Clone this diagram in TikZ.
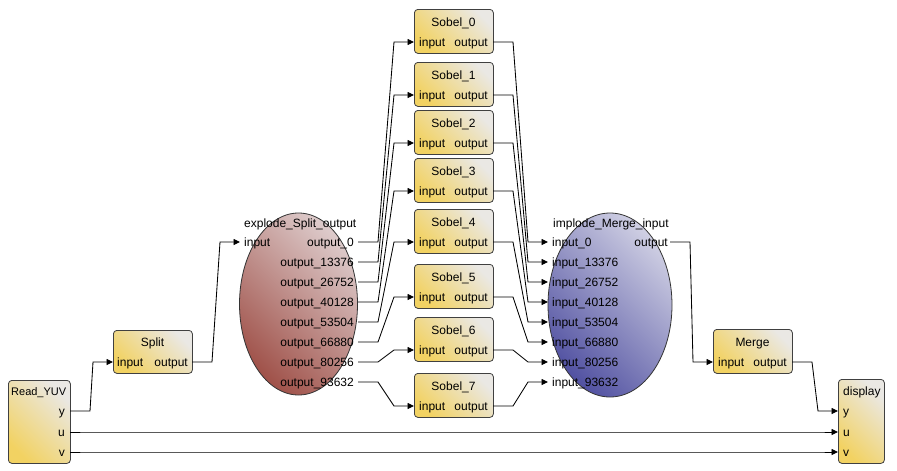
\documentclass[tikz,border=0pt]{standalone}
\usepackage{fontspec}
\setmainfont{Liberation Sans}
\usetikzlibrary{arrows.meta,shapes.geometric}

\definecolor{boxgold}{HTML}{F2D262}
\definecolor{boxpale}{HTML}{EAE8E4}
\definecolor{exdark}{HTML}{A0524A}
\definecolor{exlight}{HTML}{DDCBCB}
\definecolor{imdark}{HTML}{5252A2}
\definecolor{imlight}{HTML}{CFCFE3}

\tikzset{
  actor/.style={draw=black!75, line width=0.8pt, rounded corners=3.5pt,
    bottom color=boxgold, top color=boxpale, shading angle=-45,
    anchor=north west, inner sep=0pt},
  special/.style={ellipse, draw=black!80, line width=0.8pt, inner sep=0pt},
  lbl/.style={font=\fontsize{12}{14}\selectfont, inner sep=0pt, text=black},
  wire/.style={draw=black, line width=0.85pt, -{Triangle[length=6.5pt,width=6pt]}},
  link/.style={to path={-- ++(20,0) -- ([xshift=-20pt]\tikztotarget) -- (\tikztotarget)}}
}

\begin{document}
\begin{tikzpicture}[x=1pt, y=-1pt]
  \fill[white] (0,0) rectangle (897,471);
  \useasboundingbox (0,0) rectangle (897,471);

  % source actor
  \node[actor, minimum width=62, minimum height=83] (read) at (8,380) {};
  \node[lbl, font=\fontsize{11}{13}\selectfont, anchor=base west] (read-name) at (11,395.5) {Read\_YUV};
  \node[lbl, anchor=base east] (read-yl) at (65,415.5) {y};
  \node[lbl, anchor=base east] (read-ul) at (65,436.5) {u};
  \node[lbl, anchor=base east] (read-vl) at (65,456.5) {v};
  \coordinate (read-y) at (70,411);
  \coordinate (read-u) at (70,432);
  \coordinate (read-v) at (70,452);

  % Split actor
  \node[actor, minimum width=79, minimum height=43] (split) at (113,330) {};
  \node[lbl, anchor=base] (split-name) at (152.5,346) {Split};
  \node[lbl, anchor=base west] (split-inl) at (117,366.5) {input};
  \node[lbl, anchor=base east] (split-outl) at (188,366.5) {output};
  \coordinate (split-in) at (113,362);
  \coordinate (split-out) at (192,362);

  % explode vertex
  \node[special, minimum width=118, minimum height=182,
        top color=exlight, bottom color=exdark, shading angle=-45] (explode) at (298.5,304) {};
  \node[lbl, anchor=base west] (explode-name) at (244,227.5) {explode\_Split\_output};
  \node[lbl, anchor=base west] (explode-inl) at (244,246.5) {input};
  \coordinate (explode-in) at (240,242);
  \foreach \n [count=\i from 0] in {0,13376,26752,40128,53504,66880,80256,93632} {
    \node[lbl, anchor=base east] (explode-l\i) at (354,246.5+20*\i) {output\_\n};
    \coordinate (explode-out\i) at (358,242+20*\i);
  }

  % implode vertex
  \node[special, minimum width=124, minimum height=184,
        top color=imlight, bottom color=imdark, shading angle=-45] (implode) at (610,305) {};
  \node[lbl, anchor=base west] (implode-name) at (553,227.5) {implode\_Merge\_input};
  \node[lbl, anchor=base east] (implode-outl) at (668,246.5) {output};
  \coordinate (implode-out) at (670,242);
  \foreach \n [count=\i from 0] in {0,13376,26752,40128,53504,66880,80256,93632} {
    \node[lbl, anchor=base west] (implode-l\i) at (552,246.5+20*\i) {input\_\n};
    \coordinate (implode-in\i) at (548,242+20*\i);
  }

  % Sobel actors
  \foreach \p [count=\i from 0] in {42,95,143,191,242,297,350,406} {
    \node[actor, minimum width=79, minimum height=44] (sobel\i) at (414,\p-33) {};
    \node[lbl, anchor=base] (sobel\i-name) at (453.5,\p-16) {Sobel\_\i};
    \node[lbl, anchor=base west] (sobel\i-inl) at (419,\p+4.5) {input};
    \node[lbl, anchor=base east] (sobel\i-outl) at (488,\p+4.5) {output};
    \coordinate (sobel\i-in) at (414,\p);
    \coordinate (sobel\i-out) at (493,\p);
  }

  % Merge actor
  \node[actor, minimum width=79, minimum height=44] (merge) at (713,329) {};
  \node[lbl, anchor=base] (merge-name) at (752.5,346) {Merge};
  \node[lbl, anchor=base west] (merge-inl) at (718,366.5) {input};
  \node[lbl, anchor=base east] (merge-outl) at (787,366.5) {output};
  \coordinate (merge-in) at (713,362);
  \coordinate (merge-out) at (792,362);

  % sink actor
  \node[actor, minimum width=46, minimum height=84] (display) at (838,379) {};
  \node[lbl, anchor=base west] (display-name) at (843,395.5) {display};
  \node[lbl, anchor=base west] (display-yl) at (843,415.5) {y};
  \node[lbl, anchor=base west] (display-ul) at (843,436.5) {u};
  \node[lbl, anchor=base west] (display-vl) at (843,456.5) {v};
  \coordinate (display-y) at (838,411);
  \coordinate (display-u) at (838,432);
  \coordinate (display-v) at (838,452);

  % FIFOs
  \draw[wire] (read-y) to[link] (split-in);
  \draw[wire] (read-u) to[link] (display-u);
  \draw[wire] (read-v) to[link] (display-v);
  \draw[wire] (split-out) to[link] (explode-in);
  \foreach \i in {0,...,7} {
    \draw[wire] (explode-out\i) to[link] (sobel\i-in);
    \draw[wire] (sobel\i-out) to[link] (implode-in\i);
  }
  \draw[wire] (implode-out) to[link] (merge-in);
  \draw[wire] (merge-out) to[link] (display-y);
\end{tikzpicture}
\end{document}
